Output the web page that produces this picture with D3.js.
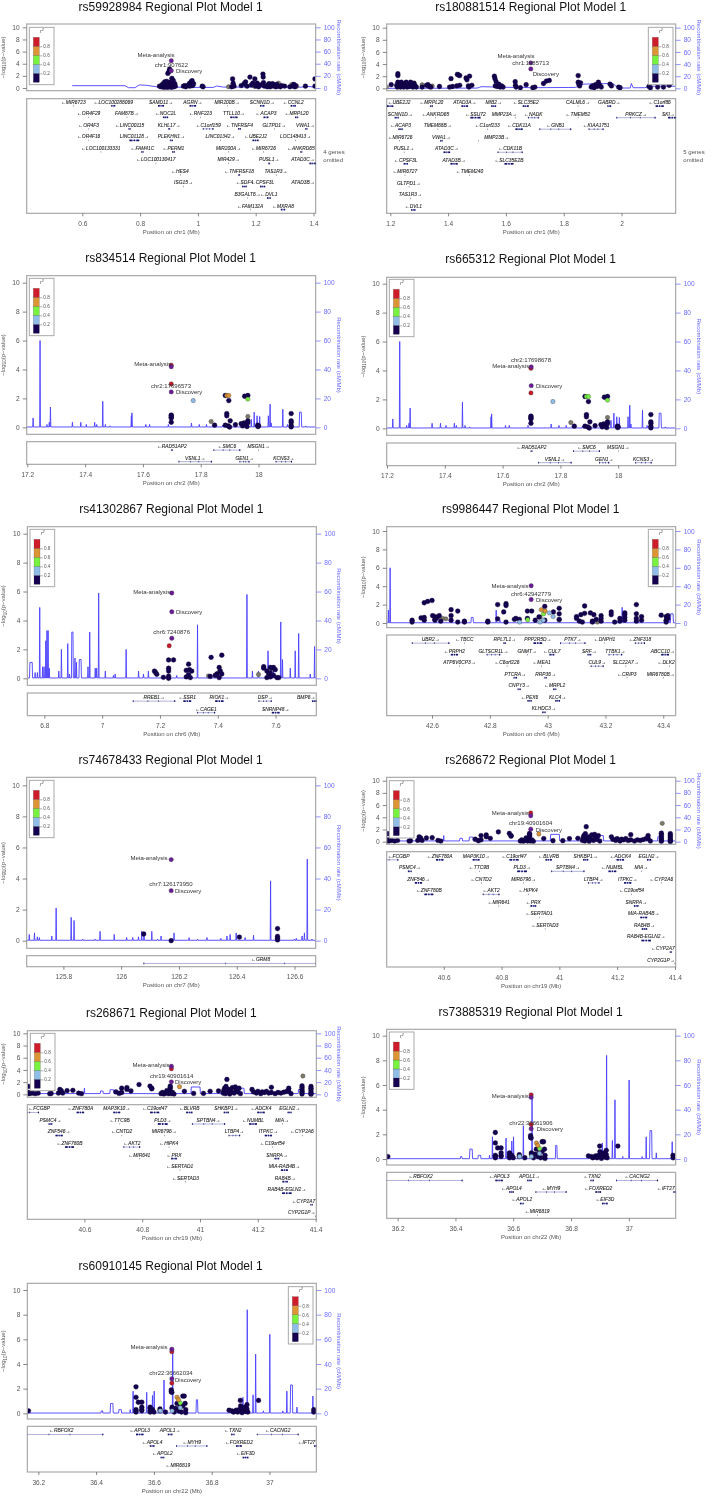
<!DOCTYPE html>
<html><head><meta charset="utf-8">
<script src="https://cdn.jsdelivr.net/npm/d3@7"></script>
<style>
html,body{margin:0;padding:0;background:#fff}
svg{display:block;font-family:"Liberation Sans",Arial,sans-serif;filter:blur(.3px)}
</style></head><body><svg id="c" width="712" height="1497"></svg>
<script>
// ---------- values (Mb, -log10 p, cM/Mb) ----------
const r2Colors=["#150050","#8fbde8","#77f23e","#dd9434","#cf1c2b"];
const r2Ticks=[0.2,0.4,0.6,0.8];
const c={navy:"#150050",gray:"#7d7a6a",blue:"#8fbde8",green:"#77f23e",orange:"#dd9434",red:"#c8182a",purple:"#6a1b9a"};

// genes: name, strand, row, start, end, optional label centre
const genesChr1a=[["MIR6723",-1,0,.569,.569],["LOC100288069",-1,0,.700,.714],["SAMD11",1,0,.862,.883],["AGRN",1,0,.971,.994],["MIR200B",1,0,1.101,1.101],["SCNN1D",1,0,1.215,1.230],["CCNL2",-1,0,1.321,1.339],
["OR4F29",-1,1,.622,.622],["FAM87B",1,1,.754,.754],["NOC2L",-1,1,.879,.897],["RNF223",-1,1,1.009,1.009],["TTLL10",1,1,1.112,1.137],["ACAP3",-1,1,1.227,1.244],["MRPL20",-1,1,1.336,1.347],
["OR4F3",-1,2,.622,.622],["LINC00115",-1,2,.760,.767],["KLHL17",1,2,.897,.904],["C1orf159",-1,2,1.017,1.054],["TNFRSF4",-1,2,1.139,1.149],["GLTPD1",1,2,1.264,1.264],["VWA1",1,2,1.371,1.379],
["OR4F16",-1,3,.622,.622],["LINC01128",1,3,.763,.797],["PLEKHN1",1,3,.903,.913],["LINC01342",1,3,1.078,1.078],["UBE2J2",-1,3,1.189,1.21],["LOC148413",1,3,1.338,1.338],
["LOC100133331",-1,4,.664,.664],["FAM41C",-1,4,.804,.812],["PERM1",-1,4,.911,.92],["MIR200A",1,4,1.106,1.106],["MIR6726",-1,4,1.227,1.227],["ANKRD65",-1,4,1.354,1.361],
["LOC100130417",-1,5,.854,.854],["MIR429",1,5,1.106,1.106],["PUSL1",1,5,1.243,1.25],["ATAD3C",1,5,1.386,1.409],
["HES4",-1,6,.938,.938],["TNFRSF18",-1,6,1.139,1.146],["TAS1R3",1,6,1.27,1.27],
["ISG15",1,7,.95,.95],["SDF4",-1,7,1.153,1.169],["CPSF3L",-1,7,1.215,1.233],["ATAD3B",1,7,1.409,1.409],
["B3GALT6",1,8,1.172,1.172],["DVL1",-1,8,1.239,1.252],
["FAM132A",-1,9,1.181,1.181],["MXRA8",-1,9,1.287,1.302]];
const genesChr1b=[["UBE2J2",-1,0,1.188,1.21],["MRPL20",-1,0,1.337,1.347],["ATAD3A",1,0,1.446,1.469],["MIB2",1,0,1.549,1.566],["SLC35E2",-1,0,1.658,1.679],["CALML6",1,0,1.849,1.849],["GABRD",1,0,1.951,1.964],["C1orf86",-1,0,2.118,2.146],
["SCNN1D",1,1,1.215,1.229],["ANKRD65",-1,1,1.356,1.356],["SSU72",-1,1,1.477,1.512],["MMP23A",1,1,1.633,1.633,1.594],["NADK",-1,1,1.676,1.714],["TMEM52",-1,1,1.849,1.849],["PRKCZ",1,1,1.982,2.118],["SKI",1,1,2.161,2.19],
["ACAP3",-1,2,1.228,1.243],["TMEM88B",1,2,1.364,1.364],["C1orf233",-1,2,1.535,1.535],["CDK11A",-1,2,1.633,1.658],["GNB1",-1,2,1.716,1.826],["KIAA1751",-1,2,1.886,1.938],
["MIR6726",-1,3,1.231,1.231],["VWA1",1,3,1.372,1.381],["MMP23B",1,3,1.505,1.505,1.568],
["PUSL1",1,4,1.247,1.247],["ATAD3C",1,4,1.384,1.407],["CDK11B",-1,4,1.571,1.658],
["CPSF3L",-1,5,1.246,1.261],["ATAD3B",1,5,1.408,1.433],["SLC35E2B",-1,5,1.595,1.626],
["MIR6727",-1,6,1.25,1.25],["TMEM240",-1,6,1.474,1.474],
["GLTPD1",1,7,1.264,1.264],["TAS1R3",1,8,1.269,1.269],["DVL1",-1,9,1.272,1.287]];
const genesChr2=[["RAD51AP2",-1,0,17.697,17.703],["SMC6",-1,0,17.844,17.937],["MSGN1",1,0,18.0,18.0],
["VSNL1",1,1,17.723,17.839],["GEN1",1,1,17.934,17.969],["KCNS3",1,1,18.059,18.116]];
const genesChr6a=[["RREB1",1,0,7.106,7.253],["SSR1",-1,0,7.281,7.308],["RIOK1",1,0,7.391,7.42],["DSP",1,0,7.541,7.587],["BMP6",1,0,7.726,7.743],
["CAGE1",-1,1,7.328,7.391],["SNRNP48",1,1,7.587,7.614]];
const genesChr6b=[["UBR2",1,0,42.53,42.66],["TBCC",-1,0,42.712,42.712],["RPL7L1",1,0,42.847,42.856],["PPP2R5D",1,0,42.951,42.981],["PTK7",1,0,43.043,43.131],["DNPH1",-1,0,43.197,43.197],["ZNF318",-1,0,43.302,43.337],
["PRPH2",-1,1,42.665,42.69],["GLTSCR1L",1,1,42.789,42.836],["GNMT",1,1,42.929,42.929],["CUL7",-1,1,43.006,43.023],["SRF",1,1,43.138,43.151],["TTBK1",1,1,43.211,43.258],["ABCC10",1,1,43.393,43.42],
["ATP6V0CP3",1,2,42.695,42.695],["C6orf226",-1,2,42.859,42.859],["MEA1",-1,2,42.979,42.979],["CUL9",1,2,43.149,43.194],["SLC22A7",1,2,43.27,43.27],["DLK2",-1,2,43.42,43.42],
["PTCRA",1,3,42.882,42.894],["RRP36",1,3,42.989,42.997],["CRIP3",-1,3,43.274,43.274],["MIR6780B",1,3,43.401,43.401],
["CNPY3",1,4,42.896,42.907],["MRPL2",-1,4,43.019,43.03],
["PEX6",-1,5,42.93,42.945],["KLC4",1,5,43.026,43.043],
["KLHDC3",1,6,42.981,42.993]];
const genesChr7=[["GRM8",-1,0,126.077,126.888]];
const genesChr19=[["FCGBP",-1,0,40.36,40.443],["ZNF780A",-1,0,40.573,40.599],["MAP3K10",1,0,40.7,40.724],["C19orf47",-1,0,40.827,40.859],["BLVRB",-1,0,40.952,40.974],["SHKBP1",1,0,41.082,41.1],["ADCK4",-1,0,41.198,41.224],["EGLN2",1,0,41.303,41.317],
["PSMC4",1,1,40.476,40.489],["TTC9B",-1,1,40.722,40.722],["PLD3",1,1,40.854,40.888],["SPTBN4",1,1,40.972,41.087],["NUMBL",-1,1,41.17,41.197],["MIA",1,1,41.284,41.284],
["ZNF546",1,2,40.5,40.525],["CNTD2",-1,2,40.729,40.729],["MIR6796",1,2,40.876,40.876],["LTBP4",1,2,41.099,41.139],["ITPKC",1,2,41.224,41.249],["CYP2A6",-1,2,41.353,41.353],
["ZNF780B",-1,3,40.533,40.564],["AKT2",-1,3,40.735,40.793],["HIPK4",-1,3,40.892,40.892],["C19orf54",-1,3,41.25,41.25],
["MIR641",-1,4,40.79,40.79],["PRX",-1,4,40.9,40.92],["SNRPA",1,4,41.258,41.274],
["SERTAD1",-1,5,40.93,40.93],["MIA-RAB4B",1,5,41.28,41.304],
["SERTAD3",-1,6,40.95,40.95],["RAB4B",1,6,41.285,41.304],
["RAB4B-EGLN2",1,7,41.284,41.317],["CYP2A7",-1,8,41.382,41.39],["CYP2G1P",1,9,41.399,41.399]];
const genesChr22=[["RBFOX2",-1,0,36.134,36.425],["APOL3",-1,0,36.538,36.564],["APOL1",1,0,36.648,36.664],["TXN2",-1,0,36.867,36.879],["CACNG2",-1,0,36.956,37.101],
["APOL4",-1,1,36.586,36.602],["MYH9",-1,1,36.677,36.785],["FOXRED2",-1,1,36.884,36.904],["IFT27",-1,1,37.154,37.164],
["APOL2",-1,2,36.623,36.636],["EIF3D",-1,2,36.907,36.927],["MIR6819",-1,3,36.683,36.683]];

// recombination rate: plain polylines [pos, rate]
const recChr1a=[[.565,3.8],[.748,3.8],[.76,.5],[.782,.5],[.797,5],[.823,4.4],[.857,2],[.96,1],[1.054,1],[1.065,3.3],[1.088,1.5],[1.2,1.5],[1.36,1.4],[1.372,3],[1.41,1.2]];
const recChr1b=[[1.187,0],[1.5,.4],[1.508,1.6],[1.514,2.7],[1.625,1.5],[1.66,1.5],[1.685,1],[1.74,1.2],[1.84,1.5],[1.87,7],[1.97,8],[1.988,.5],[2.03,.5],[2.034,8],[2.04,1],[2.08,1],[2.1,3.5],[2.19,3.5]];
// recombination rate: peaks [pos, rate, half width]
const recChr2=[[17.22,6.5],[17.244,60],[17.268,2],[17.276,3.5],[17.28,14],[17.356,3.5],[17.385,3.5],[17.404,2],[17.433,3.5],[17.44,2],[17.461,18],[17.47,2],[17.486,1],[17.56,8],[17.562,10],[17.61,2],[17.623,2],[17.688,2],[17.768,3],[17.795,2],[17.82,2],[17.876,1.5],[17.963,5],[17.975,5.5],[17.985,10.5],[17.995,8],[18.004,7.5],[18.034,8],[18.04,16],[18.044,3],[18.084,12.5],[18.1,2],[18.116,2],[18.145,10.5,.003],[18.163,1]];
const recChr6a=[[6.754,11,.004],[6.768,4],[6.776,4],[6.784,49],[6.794,8],[6.799,8],[6.805,26],[6.809,33],[6.813,33],[6.817,7],[6.85,5],[6.859,20],[6.881,24],[6.887,3],[6.897,32,.002],[6.906,14],[6.911,11],[6.924,13,.003],[6.951,8],[6.957,32],[6.976,7],[6.981,7],[6.988,59],[7.011,5],[7.039,2],[7.045,3],[7.083,20],[7.126,5],[7.143,3],[7.16,5],[7.23,2],[7.258,2],[7.33,37],[7.501,58],[7.52,5],[7.541,5],[7.574,19],[7.593,6],[7.618,39],[7.624,13],[7.651,7],[7.668,19],[7.68,31],[7.72,3],[7.735,22]];
const recChr6b=[[42.449,14],[42.455,60],[42.739,6,.003],[42.822,14],[42.835,3],[42.957,4],[43.258,17],[43.266,7],[43.42,3],[43.43,10,.004]];
const recChr7=[[125.682,4],[125.7,5],[125.71,2.5],[125.717,2],[125.76,3],[125.775,21],[125.827,15],[125.837,13],[125.867,1],[125.91,1],[125.927,6],[125.976,4],[126.019,2],[126.04,2],[126.06,2.5],[126.071,6],[126.079,4],[126.106,6],[126.126,1],[126.138,3],[126.183,5],[126.235,2],[126.264,1],[126.297,2],[126.345,1.5],[126.366,3],[126.377,4],[126.398,5],[126.429,2],[126.458,3.5],[126.517,38.5],[126.599,1],[126.606,1.5],[126.626,3],[126.634,5],[126.644,52.5],[126.66,1]];
const recChr19=[[40.6,10],[40.66,5.5,.004],[40.695,7.5,.006],[40.718,5,.003],[40.985,12,.015],[41.145,10,.007],[41.349,8,.008]];
const recChr22=[[36.42,2,.002],[36.454,8,.004],[36.483,3,.004],[36.518,3],[36.528,18],[36.575,17],[36.595,14.5],[36.601,18],[36.635,27],[36.665,52],[36.749,11,.002],[36.864,3],[36.908,13],[36.923,84],[36.943,15],[36.952,48],[36.979,2],[37.001,64],[37.046,2],[37.06,18],[37.076,23,.003],[37.095,5],[37.15,14]];

// associated SNPs
const navyChr1a=[[.867,.3],[.872,.2],[.876,.5],[.88,.7],[.882,.1],[.885,1],[.886,.4],[.888,.2],[.89,.7],[.892,1.1],[.893,.3],[.895,.1],[.896,2.4],[.899,.5],[.9,2.7],[.902,3.1],[.903,.9],[.905,.3],[.907,1],[.908,.1],[.91,1.6],[.912,.5],[.915,1.2],[.917,.2],[.92,.7],[.922,.3],
[.95,.3],[.955,.4],[.958,.2],[.965,.4],[.97,.7],[.972,.3],[.975,.9],[.978,1.1],[.98,1.2],[.982,.4],[.985,.7],[1.015,.3],[1.018,.2],
[1.117,.2],[1.12,1.5],[1.122,.8],[1.125,.3],[1.15,.4],[1.16,.7],[1.165,1],[1.17,.3],[1.18,1.8],[1.185,.5],[1.19,.8],[1.197,1.5],[1.2,.3],[1.205,.8],[1.21,.2],[1.215,.5],
[1.225,2.3],[1.226,1.8],[1.227,.9],[1.23,.3],[1.24,.2],[1.243,.5],[1.246,.7],[1.25,.2],[1.254,.4],[1.258,.7],[1.262,.3],[1.265,.5],[1.27,.2],[1.273,.6],[1.276,.3],[1.285,.2],[1.29,.4],[1.3,.3],[1.318,.2],[1.328,.3],[1.332,.6],[1.336,.2],[1.338,.4],[1.372,.3],[1.405,1.5],[1.405,.3]];
const grayChr1a=[[1.106,.2],[1.195,.3],[1.279,.8],[1.325,.6],[1.342,.3]];
const navyChr1b=[[1.203,.6],[1.222,.5],[1.224,.2],[1.226,2.4],[1.226,2.1],[1.226,1],[1.228,.4],[1.232,.7],[1.235,.2],[1.238,1],[1.242,.4],[1.246,.2],[1.249,.8],[1.252,.5],[1.255,1],[1.258,.2],[1.262,.6],[1.266,.3],[1.27,1],[1.274,.5],[1.278,.2],[1.282,.8],[1.286,.4],[1.29,.2],[1.31,.2],[1.325,.5],[1.33,.6],[1.335,.3],[1.34,.2],[1.37,.3],
[1.405,.2],[1.41,1.6],[1.415,.3],[1.43,.4],[1.432,2.3],[1.436,2.2],[1.44,2.1],[1.44,.5],[1.462,1.7],[1.465,1.4],[1.47,.4],[1.474,2],[1.472,.2],[1.482,.5],[1.56,2],[1.562,1.6],[1.563,.4],[1.566,1.1],[1.57,.3],[1.575,.7],[1.58,.2],[1.585,.4],[1.59,.2],
[1.632,1.1],[1.633,.5],[1.635,.2],[1.65,.1],[1.67,.6],[1.693,.1],[1.7,.2],[1.73,.8],[1.74,1.2],[1.75,1.3],[1.85,2.1],[1.85,1],[1.852,.7],[1.855,.4],[1.858,.9],[1.895,.2],[1.9,.4],[1.905,.1],[1.91,.6],[1.915,.3],[1.92,1],[1.925,.5],[1.93,.2],[1.96,.7],[1.965,.4],[1.99,.2],[1.995,.1],[2.095,.3],[2.1,.1],[2.125,.2],[2.145,.2],[2.165,.5]];
const grayChr1b=[[1.187,.2],[1.282,.9],[1.31,.6],[1.345,.4]];
const navyChr2=[[17.698,.35],[17.698,.7],[17.698,.8],[17.698,.85],[17.698,.65],[17.848,.15],[17.89,.95],[17.89,.8],[17.885,.15],[17.895,.1],[17.902,.45],[17.9,.02],[17.92,.18],[17.94,.25],[17.945,.1],[17.95,.3],[17.955,.2],[17.96,.05],[17.963,.45],[17.963,.32],[17.997,.15],[17.998,.05],[18.0,.1],[18.113,.95],[18.113,.45],[18.113,.35],[18.113,.15],[18.113,.03],[17.897,1.85],[17.885,2.2],[17.952,2.15],[17.963,2.2]];
const grayChr2=[[17.836,.4],[17.963,.75]];
const navyChr6a=[[7.181,.5],[7.185,.4],[7.189,.28],[7.212,.07],[7.23,1.27],[7.247,1.27],[7.23,.7],[7.23,.5],[7.23,.15],[7.23,0],[7.291,.55],[7.299,.98],[7.302,.6],[7.31,.5],[7.291,.1],[7.299,.25],[7.305,.05],[7.377,1.45],[7.414,1.6],[7.405,.75],[7.409,.5],[7.397,.3],[7.391,.2],[7.414,.3],[7.405,.05],[7.374,.13],[7.559,.8],[7.559,.7],[7.57,.5],[7.576,.3],[7.57,.05],[7.582,.4],[7.588,.7],[7.593,.75],[7.599,.6],[7.582,.1],[7.593,.2],[7.605,.05],[7.611,.05],[7.582,.75]];
const grayChr6a=[[7.368,.17],[7.403,.4],[7.541,.27]];
const navyChr6b=[[42.531,.3],[42.531,.1],[42.562,.55],[42.573,2.2],[42.573,.6],[42.573,.3],[42.585,2.35],[42.6,2.45],[42.602,.8],[42.61,.3],[42.61,.4],[42.61,.7],[42.618,.6],[42.625,.8],[42.63,.2],[42.666,1.45],[42.666,.8],[42.666,.3],[42.689,1.3],[42.689,.1],[42.712,.2],[42.712,.1],[42.793,.2],[42.793,.1],[42.827,2],[42.827,.45],[42.848,1.2],[42.856,2.1],[42.856,1.9],[42.856,.1],[42.885,.4],[42.89,.5],[42.902,.4],[42.93,1.3],[42.93,.5],[42.945,1.3],[42.957,.3],[42.99,1.8],[42.99,.3],[43.02,1.2],[43.04,1.6],[43.04,1],[43.04,.4],[43.1,.7],[43.1,.5],[43.11,.2],[43.12,.1],[43.115,.9],[43.128,1.85],[43.128,1.05],[43.148,1.1],[43.155,.2],[43.155,.1],[43.16,.9],[43.168,.4],[43.185,.8],[43.185,.5],[43.185,.2],[43.22,1.2],[43.22,.9],[43.232,.1],[43.25,.5],[43.25,.2],[43.267,1.1],[43.267,.9],[43.267,.6],[43.267,.3],[43.307,2],[43.307,1],[43.307,.5],[43.307,.2],[43.325,.3],[43.325,.7],[43.393,.85],[43.41,.7],[43.41,.3],[43.41,.1],[43.416,.5],[43.416,.8],[42.97,.65]];
const grayChr6b=[[42.637,.5],[42.648,.45],[42.974,.65],[43.04,.3],[43.172,.1]];
const navyChr7=[[126.078,.43],[126.173,0],[126.409,.23],[126.541,.78],[126.541,.27],[126.541,.15],[126.541,.05]];
const navyChr19=[[40.407,1.3],[40.407,.3],[40.407,.1],[40.412,.15],[40.42,.2],[40.43,.1],[40.44,.2],[40.48,.1],[40.485,.15],[40.51,.2],[40.515,.8],[40.518,.4],[40.52,.6],[40.525,.2],[40.54,.6],[40.56,.65],[40.58,.2],[40.59,.1],[40.709,.4],[40.72,.15],[40.729,1],[40.729,.3],[40.747,1.1],[40.747,.8],[40.761,.55],[40.789,1.6],[40.827,1.35],[40.833,1],[40.833,.9],[40.865,.1],[40.87,.3],[40.875,.05],[40.88,.2],[40.885,.6],[40.89,.1],[40.893,.3],[40.897,1.15],[40.897,.9],[40.897,1.35],[40.9,.1],[40.905,.3],[40.91,.05],[40.946,.5],[40.978,.15],[41.012,.15],[41.035,.5],[41.064,.55],[41.08,.2],[41.082,.6],[41.085,1],[41.088,.1],[41.09,1.3],[41.093,2.45],[41.095,.4],[41.1,.8],[41.103,.05],[41.108,.5],[41.112,1.1],[41.118,.2],[41.122,1.2],[41.125,.7],[41.13,.4],[41.135,1],[41.14,.1],[41.18,.8],[41.185,.4],[41.195,.2],[41.2,.5],[41.21,.1],[41.215,.4],[41.223,.3],[41.23,.5],[41.238,.2],[41.247,1.15],[41.247,.3],[41.26,.1],[41.27,.3],[41.28,.2],[41.29,.35],[41.3,.5],[41.307,1],[41.307,.55],[41.315,.1],[41.353,1.4],[41.353,1.1],[41.353,.8],[41.353,.5],[41.353,.25],[41.353,.05],[41.384,1.3],[41.384,1],[41.384,.7],[41.384,.4],[41.384,.15],[41.384,0]];
const grayChr19=[[41.356,3]];
const navyChr22=[[36.166,.2],[36.538,2.15],[36.538,1.3],[36.538,.3],[36.538,.2],[36.538,.1],[36.546,.9],[36.558,.9],[36.558,.5],[36.558,.3],[36.558,.2],[36.587,.5],[36.587,.4],[36.587,.2],[36.587,.1],[36.595,.3],[36.6,.1],[36.621,.35],[36.621,.2],[36.64,.1],[36.66,1.75],[36.66,1.9],[36.662,1.7],[36.663,.5],[36.663,.4],[36.67,.1],[36.675,.4],[36.68,.8],[36.685,.2],[36.69,.5],[36.695,.1],[36.7,1.4],[36.705,1.4],[36.7,.6],[36.708,.8],[36.71,.3],[36.71,.05],[36.86,.25],[36.87,.2],[36.875,.1],[36.88,.15],[36.885,.25],[36.89,.1],[36.895,.3],[36.899,1.05],[36.9,.6],[36.903,.4],[36.905,.05],[36.91,.25],[36.915,.5],[36.918,.15],[36.922,.7],[36.922,.35],[36.925,.1],[36.962,1.05],[37.153,.3],[37.153,.1]];
const blueChr22=[[36.622,.2],[36.663,.2],[36.691,.45]];
const orangeChr22=[[36.68,1.3],[36.685,1.1]];
const greenChr22=[[36.691,.85]];

// one entry per plot
const plots=[
{rs:"rs59928984",chr:"chr1",snp:"chr1:907622",d0:.4075,ticks:[.6,.8,1,1.2,1.4],genes:genesChr1a,line:recChr1a,navy:navyChr1a,gray:grayChr1a,purple:[[.908,4.5],[.908,2.85]],omit:"4 genes"},
{rs:"rs180881514",chr:"chr1",snp:"chr1:1685713",d0:1.1873,ticks:[1.2,1.4,1.6,1.8,2],genes:genesChr1b,line:recChr1b,navy:navyChr1b,gray:grayChr1b,purple:[[1.686,4.2],[1.686,3.2]],omit:"5 genes"},
{rs:"rs834514",chr:"chr2",snp:"chr2:17696573",d0:17.1977,ticks:[17.2,17.4,17.6,17.8,18],genes:genesChr2,peaks:recChr2,navy:navyChr2,gray:grayChr2,blue:[[17.774,1.85]],orange:[[17.89,2.2],[17.897,2.2]],green:[[17.963,1.95]],red:[[17.698,4.3],[17.698,3]],purple:[[17.698,4.19],[17.698,2.45]]},
{rs:"rs665312",chr:"chr2",snp:"chr2:17698678",d0:17.1988,ticks:[17.2,17.4,17.6,17.8,18],genes:genesChr2,peaks:recChr2,navy:navyChr2,gray:grayChr2,blue:[[17.774,1.85]],green:[[17.89,2.2],[17.897,2.2],[17.963,1.95]],red:[[17.698,4.15],[17.698,2.45]],purple:[[17.699,4.25],[17.699,2.95]]},
{rs:"rs41302867",chr:"chr6",snp:"chr6:7240876",d0:6.7411,ticks:[6.8,7,7.2,7.4,7.6],genes:genesChr6a,peaks:recChr6a,navy:navyChr6a,gray:grayChr6a,red:[[7.232,2.25]],purple:[[7.241,5.9],[7.241,4.6],[7.241,2.77]]},
{rs:"rs9986447",chr:"chr6",snp:"chr6:42942779",d0:42.443,ticks:[42.6,42.8,43,43.2,43.4],genes:genesChr6b,peaks:recChr6b,navy:navyChr6b,gray:grayChr6b,blue:[[42.903,.1],[42.974,.1],[43.006,1.1],[43.019,.7],[42.985,.3]],green:[[42.931,.35],[42.986,1]],orange:[[42.978,1.45],[42.991,1.3]],purple:[[42.943,4.05],[42.943,2.55]]},
{rs:"rs74678433",chr:"chr7",snp:"chr7:126173950",d0:125.673,ticks:[125.8,126,126.2,126.4,126.6],genes:genesChr7,peaks:recChr7,navy:navyChr7,purple:[[126.173,5.22],[126.173,3.22]]},
{rs:"rs268672",chr:"chr19",snp:"chr19:40901604",d0:40.4025,ticks:[40.6,40.8,41,41.2,41.4],genes:genesChr19,peaks:recChr19,base:1.2,navy:navyChr19,gray:grayChr19,orange:[[40.929,1.25]],red:[[40.901,4.7]],purple:[[40.901,4.25],[40.901,2.05]]},
{rs:"rs268671",chr:"chr19",snp:"chr19:40901614",d0:40.4025,ticks:[40.6,40.8,41,41.2,41.4],genes:genesChr19,peaks:recChr19,base:1.2,navy:navyChr19,gray:grayChr19,orange:[[40.929,1.25]],red:[[40.901,4.2]],purple:[[40.901,4.6],[40.901,2.05]]},
{rs:"rs73885319",chr:"chr22",snp:"chr22:36661906",d0:36.162,ticks:[36.2,36.4,36.6,36.8,37],genes:genesChr22,peaks:recChr22,navy:navyChr22,blue:blueChr22,orange:orangeChr22,green:greenChr22,red:[[36.662,5.2],[36.662,2.8]],purple:[[36.662,5],[36.662,2.45]]},
{rs:"rs60910145",chr:"chr22",snp:"chr22:36662034",d0:36.162,ticks:[36.2,36.4,36.6,36.8,37],genes:genesChr22,peaks:recChr22,navy:navyChr22,blue:blueChr22,orange:orangeChr22,green:greenChr22,red:[[36.662,5],[36.662,2.45]],purple:[[36.662,5.2],[36.662,2.8]]}
];

// ---------- layout (all in 3x units relative to each plot's origin) ----------
const layouts=[
{o:[0,0],title:[512,20],x0:80,top:72,bot:272,y0:264,y10:82,gTop:296,gBot:640,row0:306,leg:[88,82],meta:[468,165],snp:[514,196],disc:[528,213]},
{o:[356,0],title:[524,20],x0:92,top:72,bot:272,y0:265,y10:83,gTop:296,gBot:640,row0:307,leg:[877,82],meta:[480,167],snp:[524,188],disc:[530,223]},
{o:[0,245],title:[512,37],x0:80,top:92,bot:568,y0:547,y10:113,gTop:590,gBot:658,row0:604,leg:[88,100],meta:[458,357],snp:[513,424],disc:[528,441]},
{o:[356,245],title:[524,41],x0:92,top:97,bot:571,y0:550,y10:116,gTop:594,gBot:662,row0:607,leg:[100,103],meta:[464,364],snp:[525,346],disc:[540,423]},
{o:[0,495],title:[514,41],x0:82,top:95,bot:571,y0:550,y10:116,gTop:594,gBot:662,row0:607,leg:[90,103],meta:[455,291],snp:[515,411],disc:[528,351]},
{o:[356,495],title:[524,41],x0:92,top:95,bot:398,y0:384,y10:108,gTop:420,gBot:662,row0:433,leg:[877,103],meta:[462,272],snp:[525,296],disc:[540,315]},
{o:[0,745],title:[512,45],x0:80,top:97,bot:610,y0:587,y10:121,gTop:632,gBot:665,row0:644,leg:[88,106],meta:[447,340],snp:[513,418],disc:[525,439]},
{o:[356,745],title:[524,45],x0:92,top:97,bot:298,y0:290,y10:107,gTop:320,gBot:666,row0:333,leg:[100,107],meta:[463,203],snp:[524,234],disc:[539,255]},
{o:[0,1000],title:[514,38],x0:82,top:92,bot:292,y0:283,y10:100,gTop:314,gBot:658,row0:326,leg:[91,100],meta:[453,195],snp:[515,228],disc:[525,245]},
{o:[356,1000],title:[524,34],x0:92,top:88,bot:495,y0:477,y10:107,gTop:517,gBot:655,row0:530,leg:[100,96],meta:[463,287],snp:[525,369],disc:[542,386]},
{o:[0,1250],title:[512,48],x0:82,top:100,bot:507,y0:490,y10:120,gTop:529,gBot:666,row0:542,leg:[865,110],meta:[447,291],snp:[513,369],disc:[525,390]}
];

// ---------- drawing ----------
const svg=d3.select("#c");
const boxStroke="#a9a9a9",txt="#555",blueTxt="#6a6aff",BW=867,ROW=34.6;
plots.forEach((p,i)=>{
  const L=layouts[i], Z=v=>v/3;
  const g=svg.append("g").attr("transform",`translate(${L.o[0]},${L.o[1]})`);
  const x=d3.scaleLinear().domain([p.d0,p.d0+1]).range([Z(L.x0),Z(L.x0+BW)]);
  const y=d3.scaleLinear().domain([0,10]).range([Z(L.y0),Z(L.y10)]);
  const yr=d3.scaleLinear().domain([0,100]).range([Z(L.y0),Z(L.y10)]);
  const cid="clip"+i;
  g.append("clipPath").attr("id",cid).append("rect").attr("x",x.range()[0]).attr("y",Z(L.top)).attr("width",BW/3).attr("height",Z(L.gBot-L.top));

  g.append("text").attr("x",Z(L.title[0])).attr("y",Z(L.title[1])).attr("dy","0.35em").attr("text-anchor","middle").attr("font-size",12).attr("fill","#111").text(`${p.rs} Regional Plot Model 1`);

  // recombination
  const base=p.base===undefined?.25:p.base;
  const pts=p.line?p.line:[[p.d0,base]].concat(p.peaks.flatMap(s=>{const w=s[2]||0;return [[s[0]-w-.0013,base],[s[0]-w,s[1]],[s[0]+w,s[1]],[s[0]+w+.0013,base]];}),[[p.d0+1,base]]);
  g.append("path").attr("clip-path",`url(#${cid})`).datum(pts).attr("fill","none").attr("stroke","#4a40ff").attr("stroke-opacity",.9).attr("stroke-width",1)
   .attr("d",d3.line().x(d=>x(d[0])).y(d=>yr(d[1])));

  // points
  const pg=g.append("g").attr("clip-path",`url(#${cid})`);
  [["gray",c.gray],["navy",c.navy],["blue",c.blue],["green",c.green],["orange",c.orange],["red",c.red],["purple",c.purple]].forEach(([k,col])=>{
    pg.selectAll(null).data(p[k]||[]).join("circle").attr("cx",d=>x(d[0])).attr("cy",d=>y(d[1])).attr("r",k==="navy"?2.4:2.2).attr("fill",col).attr("stroke",k==="navy"?"#0a0030":"#3a3a3a").attr("stroke-width",.35);
  });

  // boxes
  [[L.top,L.bot],[L.gTop,L.gBot]].forEach(b=>g.append("rect").attr("x",x.range()[0]).attr("y",Z(b[0])).attr("width",BW/3).attr("height",Z(b[1]-b[0])).attr("fill","none").attr("stroke",boxStroke).attr("stroke-width",1.2));

  // axes
  const style=(a,col)=>{a.select(".domain").remove();a.selectAll("line").attr("stroke",col).attr("stroke-width",.7);a.selectAll("text").attr("fill",col).attr("font-size",6.6).attr("font-family","inherit");};
  g.append("g").attr("transform",`translate(${x.range()[0]},0)`).call(d3.axisLeft(y).tickValues([0,2,4,6,8,10]).tickSize(4).tickPadding(3).tickFormat(d3.format("d"))).call(a=>style(a,txt));
  g.append("g").attr("transform",`translate(${x.range()[1]},0)`).call(d3.axisRight(yr).tickValues([0,20,40,60,80,100]).tickSize(5).tickPadding(3).tickFormat(d3.format("d"))).call(a=>style(a,blueTxt));
  g.append("g").attr("transform",`translate(0,${Z(L.gBot)})`).call(d3.axisBottom(x).tickValues(p.ticks).tickSize(3).tickPadding(5).tickFormat(d=>String(d))).call(a=>style(a,txt));

  const midY=Z((L.top+L.bot)/2);
  const yl=g.append("text").attr("transform",`translate(${Z(L.x0)-22},${midY}) rotate(-90)`).attr("text-anchor","middle").attr("font-size",6).attr("fill",txt);
  yl.append("tspan").text("−log");yl.append("tspan").attr("font-size",4.5).attr("dy",1.2).text("10");yl.append("tspan").attr("dy",-1.2).text("(p−value)");
  g.append("text").attr("transform",`translate(${Z(L.x0+BW)+21},${midY}) rotate(90)`).attr("text-anchor","middle").attr("font-size",6).attr("fill",blueTxt).text("Recombination rate (cM/Mb)");
  g.append("text").attr("x",(x.range()[0]+x.range()[1])/2).attr("y",Z(L.gBot)+20.5).attr("text-anchor","middle").attr("font-size",6).attr("fill",txt).text(`Position on ${p.chr} (Mb)`);

  // genes
  const gg=g.append("g");
  const clipG=gg.append("g").attr("clip-path",`url(#${cid})`);
  p.genes.forEach(d=>{
    const [name,strand,row,s,e,labAt]=d;
    const ly=Z(L.row0+row*ROW), my=ly+3.8;
    clipG.append("line").attr("x1",x(s)).attr("x2",x(e)).attr("y1",my).attr("y2",my).attr("stroke","#3a3aa0").attr("stroke-width",.4);
    const w=e-s;
    const ex=w===0?[[s,s+.0008]]:w<.035?[[s,s+w*.3],[s+w*.42,s+w*.58],[e-w*.3,e]]:[[s,s+.003],[s+w*.35,s+w*.35+.002],[s+w*.6,s+w*.6+.002],[e-.004,e]];
    ex.forEach(q=>clipG.append("rect").attr("x",x(q[0])).attr("y",my-(w===0?.7:.85)).attr("width",Math.max(.4,x(q[1])-x(q[0]))).attr("height",w===0?1.4:1.7).attr("fill","#14146e"));
    const t=gg.append("text").attr("y",ly).attr("dy","0.35em").attr("text-anchor","middle").attr("font-size",4.9).attr("font-style","italic").attr("fill","#222").attr("stroke","#222").attr("stroke-width",.08)
      .text(strand<0?"←"+name:name+"→");
    const tw=t.node().getComputedTextLength();
    const at=labAt===undefined?(x(s)+x(e))/2:x(labAt);
    const cx=Math.min(Math.max(at,x.range()[0]+tw/2+1),x.range()[1]-tw/2-1);
    t.attr("x",cx);
  });

  if(p.omit){
    g.append("text").attr("x",Z(L.x0+BW+23)).attr("y",Z(456)).attr("dy","0.35em").attr("font-size",6).attr("fill",txt).text(p.omit);
    g.append("text").attr("x",Z(L.x0+BW+23)).attr("y",Z(481)).attr("dy","0.35em").attr("font-size",6).attr("fill",txt).text("omitted");
  }

  // point labels
  const lab=(pos,s,anc,col)=>g.append("text").attr("x",Z(pos[0])).attr("y",Z(pos[1])).attr("dy","0.35em").attr("text-anchor",anc).attr("font-size",6).attr("fill",col||"#333").text(s);
  lab(L.meta,"Meta-analysis","middle");
  lab(L.snp,p.snp,"middle");
  lab(L.disc,"Discovery","start");

  // legend
  const lx=L.leg[0],ly=L.leg[1];
  const lg=g.append("g");
  lg.append("rect").attr("x",Z(lx)).attr("y",Z(ly)).attr("width",Z(74)).attr("height",Z(172)).attr("fill","#fff").attr("stroke",boxStroke).attr("stroke-width",1);
  const sy=d3.scaleLinear().domain([0,1]).range([Z(ly+165),Z(ly+30)]);
  lg.selectAll(null).data(r2Colors).join("rect").attr("x",Z(lx+12)).attr("width",Z(18)).attr("y",(d,j)=>sy((j+1)/5)).attr("height",(d,j)=>sy(j/5)-sy((j+1)/5)).attr("fill",d=>d).attr("stroke","#333").attr("stroke-width",.2);
  lg.append("g").attr("transform",`translate(${Z(lx+30)},0)`).call(d3.axisRight(sy).tickValues(r2Ticks).tickSize(3).tickPadding(1).tickFormat(d3.format(".1f"))).call(a=>{a.select(".domain").remove();a.selectAll("line").attr("stroke","#666").attr("stroke-width",.5);a.selectAll("text").attr("fill",txt).attr("font-size",4.6).attr("font-family","inherit");});
  const rt=lg.append("text").attr("x",Z(lx+38)).attr("y",Z(ly+17)).attr("text-anchor","middle").attr("font-size",5.5).attr("font-style","italic").attr("fill",txt).text("r");
  rt.append("tspan").attr("font-size",3.8).attr("dy",-2).text("2");
});
</script></body></html>
